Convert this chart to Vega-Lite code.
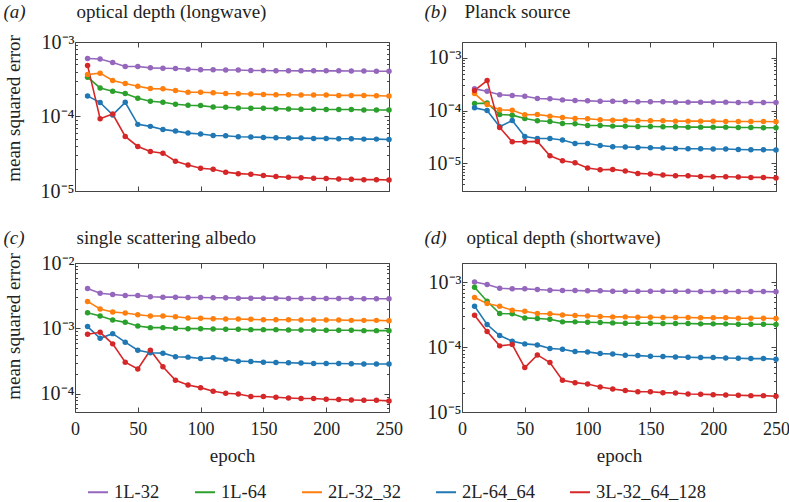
{
  "$schema": "https://vega.github.io/schema/vega-lite/v6.json",
  "padding": {"left": 2, "top": 1, "right": 0, "bottom": 0},
  "background": "white",
  "datasets": {
    "a": [
      {"e":10,"1L-32":6.0e-4,"1L-64":3.37e-4,"2L-32_32":3.66e-4,"2L-64_64":1.89e-4,"3L-32_64_128":4.85e-4},
      {"e":20,"1L-32":5.9e-4,"1L-64":2.42e-4,"2L-32_32":3.82e-4,"2L-64_64":1.54e-4,"3L-32_64_128":9.35e-5},
      {"e":30,"1L-32":5.3e-4,"1L-64":2.18e-4,"2L-32_32":3.04e-4,"2L-64_64":1.05e-4,"3L-32_64_128":1.08e-4},
      {"e":40,"1L-32":4.7e-4,"1L-64":2.03e-4,"2L-32_32":2.77e-4,"2L-64_64":1.55e-4,"3L-32_64_128":5.4e-5},
      {"e":50,"1L-32":4.7e-4,"1L-64":1.76e-4,"2L-32_32":2.55e-4,"2L-64_64":7.84e-5,"3L-32_64_128":3.96e-5},
      {"e":60,"1L-32":4.5e-4,"1L-64":1.60e-4,"2L-32_32":2.37e-4,"2L-64_64":7.37e-5,"3L-32_64_128":3.39e-5},
      {"e":70,"1L-32":4.45e-4,"1L-64":1.55e-4,"2L-32_32":2.35e-4,"2L-64_64":6.71e-5,"3L-32_64_128":3.22e-5},
      {"e":80,"1L-32":4.4e-4,"1L-64":1.46e-4,"2L-32_32":2.23e-4,"2L-64_64":6.37e-5,"3L-32_64_128":2.51e-5},
      {"e":90,"1L-32":4.3e-4,"1L-64":1.415e-4,"2L-32_32":2.12e-4,"2L-64_64":5.99e-5,"3L-32_64_128":2.24e-5},
      {"e":100,"1L-32":4.25e-4,"1L-64":1.40e-4,"2L-32_32":2.12e-4,"2L-64_64":5.81e-5,"3L-32_64_128":2.02e-5},
      {"e":110,"1L-32":4.25e-4,"1L-64":1.34e-4,"2L-32_32":2.08e-4,"2L-64_64":5.57e-5,"3L-32_64_128":1.96e-5},
      {"e":120,"1L-32":4.2e-4,"1L-64":1.33e-4,"2L-32_32":2.04e-4,"2L-64_64":5.52e-5,"3L-32_64_128":1.79e-5},
      {"e":130,"1L-32":4.2e-4,"1L-64":1.30e-4,"2L-32_32":2.02e-4,"2L-64_64":5.35e-5,"3L-32_64_128":1.71e-5},
      {"e":140,"1L-32":4.15e-4,"1L-64":1.29e-4,"2L-32_32":2.0e-4,"2L-64_64":5.3e-5,"3L-32_64_128":1.68e-5},
      {"e":150,"1L-32":4.15e-4,"1L-64":1.29e-4,"2L-32_32":1.98e-4,"2L-64_64":5.24e-5,"3L-32_64_128":1.61e-5},
      {"e":160,"1L-32":4.12e-4,"1L-64":1.275e-4,"2L-32_32":1.96e-4,"2L-64_64":5.19e-5,"3L-32_64_128":1.56e-5},
      {"e":170,"1L-32":4.12e-4,"1L-64":1.26e-4,"2L-32_32":1.96e-4,"2L-64_64":5.13e-5,"3L-32_64_128":1.53e-5},
      {"e":180,"1L-32":4.1e-4,"1L-64":1.25e-4,"2L-32_32":1.94e-4,"2L-64_64":5.13e-5,"3L-32_64_128":1.51e-5},
      {"e":190,"1L-32":4.1e-4,"1L-64":1.25e-4,"2L-32_32":1.94e-4,"2L-64_64":5.08e-5,"3L-32_64_128":1.48e-5},
      {"e":200,"1L-32":4.1e-4,"1L-64":1.24e-4,"2L-32_32":1.94e-4,"2L-64_64":5.08e-5,"3L-32_64_128":1.47e-5},
      {"e":210,"1L-32":4.1e-4,"1L-64":1.24e-4,"2L-32_32":1.92e-4,"2L-64_64":5.02e-5,"3L-32_64_128":1.45e-5},
      {"e":220,"1L-32":4.08e-4,"1L-64":1.24e-4,"2L-32_32":1.92e-4,"2L-64_64":5.02e-5,"3L-32_64_128":1.44e-5},
      {"e":230,"1L-32":4.08e-4,"1L-64":1.225e-4,"2L-32_32":1.92e-4,"2L-64_64":4.97e-5,"3L-32_64_128":1.42e-5},
      {"e":240,"1L-32":4.05e-4,"1L-64":1.225e-4,"2L-32_32":1.9e-4,"2L-64_64":4.97e-5,"3L-32_64_128":1.42e-5},
      {"e":250,"1L-32":4.05e-4,"1L-64":1.225e-4,"2L-32_32":1.88e-4,"2L-64_64":4.92e-5,"3L-32_64_128":1.406e-5}
    ],
    "b": [
      {"e":10,"1L-32":2.59e-4,"1L-64":1.37e-4,"2L-32_32":2.11e-4,"2L-64_64":1.13e-4,"3L-32_64_128":2.41e-4},
      {"e":20,"1L-32":2.34e-4,"1L-64":1.39e-4,"2L-32_32":1.31e-4,"2L-64_64":1.01e-4,"3L-32_64_128":3.72e-4},
      {"e":30,"1L-32":2.0e-4,"1L-64":8.46e-5,"2L-32_32":1.04e-4,"2L-64_64":4.94e-5,"3L-32_64_128":4.8e-5},
      {"e":40,"1L-32":1.94e-4,"1L-64":8.22e-5,"2L-32_32":1.02e-4,"2L-64_64":6.51e-5,"3L-32_64_128":2.57e-5},
      {"e":50,"1L-32":1.88e-4,"1L-64":7.11e-5,"2L-32_32":8.34e-5,"2L-64_64":3.24e-5,"3L-32_64_128":2.57e-5},
      {"e":60,"1L-32":1.70e-4,"1L-64":6.42e-5,"2L-32_32":8.46e-5,"2L-64_64":2.97e-5,"3L-32_64_128":2.61e-5},
      {"e":70,"1L-32":1.675e-4,"1L-64":6.24e-5,"2L-32_32":7.87e-5,"2L-64_64":2.97e-5,"3L-32_64_128":1.396e-5},
      {"e":80,"1L-32":1.60e-4,"1L-64":5.72e-5,"2L-32_32":7.42e-5,"2L-64_64":2.77e-5,"3L-32_64_128":1.122e-5},
      {"e":90,"1L-32":1.56e-4,"1L-64":5.64e-5,"2L-32_32":7.11e-5,"2L-64_64":2.39e-5,"3L-32_64_128":1.03e-5},
      {"e":100,"1L-32":1.535e-4,"1L-64":5.24e-5,"2L-32_32":7.0e-5,"2L-64_64":2.39e-5,"3L-32_64_128":8.17e-6},
      {"e":110,"1L-32":1.51e-4,"1L-64":5.24e-5,"2L-32_32":6.7e-5,"2L-64_64":2.19e-5,"3L-32_64_128":7.59e-6},
      {"e":120,"1L-32":1.51e-4,"1L-64":5.09e-5,"2L-32_32":6.6e-5,"2L-64_64":2.07e-5,"3L-32_64_128":7.7e-6},
      {"e":130,"1L-32":1.49e-4,"1L-64":5.09e-5,"2L-32_32":6.6e-5,"2L-64_64":2.04e-5,"3L-32_64_128":7.16e-6},
      {"e":140,"1L-32":1.47e-4,"1L-64":5.01e-5,"2L-32_32":6.51e-5,"2L-64_64":2.01e-5,"3L-32_64_128":6.47e-6},
      {"e":150,"1L-32":1.47e-4,"1L-64":5.01e-5,"2L-32_32":6.42e-5,"2L-64_64":1.98e-5,"3L-32_64_128":6.28e-6},
      {"e":160,"1L-32":1.47e-4,"1L-64":4.94e-5,"2L-32_32":6.42e-5,"2L-64_64":1.95e-5,"3L-32_64_128":6.01e-6},
      {"e":170,"1L-32":1.45e-4,"1L-64":4.94e-5,"2L-32_32":6.33e-5,"2L-64_64":1.92e-5,"3L-32_64_128":5.84e-6},
      {"e":180,"1L-32":1.45e-4,"1L-64":4.87e-5,"2L-32_32":6.33e-5,"2L-64_64":1.9e-5,"3L-32_64_128":5.84e-6},
      {"e":190,"1L-32":1.45e-4,"1L-64":4.87e-5,"2L-32_32":6.33e-5,"2L-64_64":1.9e-5,"3L-32_64_128":5.67e-6},
      {"e":200,"1L-32":1.45e-4,"1L-64":4.87e-5,"2L-32_32":6.33e-5,"2L-64_64":1.87e-5,"3L-32_64_128":5.6e-6},
      {"e":210,"1L-32":1.45e-4,"1L-64":4.87e-5,"2L-32_32":6.24e-5,"2L-64_64":1.87e-5,"3L-32_64_128":5.6e-6},
      {"e":220,"1L-32":1.43e-4,"1L-64":4.8e-5,"2L-32_32":6.24e-5,"2L-64_64":1.84e-5,"3L-32_64_128":5.51e-6},
      {"e":230,"1L-32":1.43e-4,"1L-64":4.8e-5,"2L-32_32":6.24e-5,"2L-64_64":1.82e-5,"3L-32_64_128":5.43e-6},
      {"e":240,"1L-32":1.43e-4,"1L-64":4.73e-5,"2L-32_32":6.24e-5,"2L-64_64":1.82e-5,"3L-32_64_128":5.43e-6},
      {"e":250,"1L-32":1.43e-4,"1L-64":4.73e-5,"2L-32_32":6.15e-5,"2L-64_64":1.79e-5,"3L-32_64_128":5.28e-6}
    ],
    "c": [
      {"e":10,"1L-32":4.07e-3,"1L-64":1.74e-3,"2L-32_32":2.59e-3,"2L-64_64":1.07e-3,"3L-32_64_128":8.15e-4},
      {"e":20,"1L-32":3.46e-3,"1L-64":1.55e-3,"2L-32_32":1.98e-3,"2L-64_64":7.09e-4,"3L-32_64_128":8.74e-4},
      {"e":30,"1L-32":3.30e-3,"1L-64":1.346e-3,"2L-32_32":1.78e-3,"2L-64_64":8.34e-4,"3L-32_64_128":5.82e-4},
      {"e":40,"1L-32":3.19e-3,"1L-64":1.24e-3,"2L-32_32":1.72e-3,"2L-64_64":6.17e-4,"3L-32_64_128":3.06e-4},
      {"e":50,"1L-32":3.19e-3,"1L-64":1.09e-3,"2L-32_32":1.62e-3,"2L-64_64":4.66e-4,"3L-32_64_128":2.4e-4},
      {"e":60,"1L-32":3.045e-3,"1L-64":1.03e-3,"2L-32_32":1.55e-3,"2L-64_64":4.25e-4,"3L-32_64_128":4.66e-4},
      {"e":70,"1L-32":3.01e-3,"1L-64":1.03e-3,"2L-32_32":1.55e-3,"2L-64_64":4.2e-4,"3L-32_64_128":2.6e-4},
      {"e":80,"1L-32":3.01e-3,"1L-64":1.006e-3,"2L-32_32":1.51e-3,"2L-64_64":3.69e-4,"3L-32_64_128":1.614e-4},
      {"e":90,"1L-32":2.97e-3,"1L-64":9.94e-4,"2L-32_32":1.443e-3,"2L-64_64":3.65e-4,"3L-32_64_128":1.37e-4},
      {"e":100,"1L-32":2.97e-3,"1L-64":9.94e-4,"2L-32_32":1.427e-3,"2L-64_64":3.48e-4,"3L-32_64_128":1.248e-4},
      {"e":110,"1L-32":2.94e-3,"1L-64":9.83e-4,"2L-32_32":1.41e-3,"2L-64_64":3.56e-4,"3L-32_64_128":1.1e-4},
      {"e":120,"1L-32":2.94e-3,"1L-64":9.71e-4,"2L-32_32":1.394e-3,"2L-64_64":3.4e-4,"3L-32_64_128":1.023e-4},
      {"e":130,"1L-32":2.905e-3,"1L-64":9.71e-4,"2L-32_32":1.394e-3,"2L-64_64":3.17e-4,"3L-32_64_128":1.0e-4},
      {"e":140,"1L-32":2.905e-3,"1L-64":9.6e-4,"2L-32_32":1.378e-3,"2L-64_64":3.13e-4,"3L-32_64_128":9.12e-5},
      {"e":150,"1L-32":2.905e-3,"1L-64":9.6e-4,"2L-32_32":1.36e-3,"2L-64_64":3.06e-4,"3L-32_64_128":9.12e-5},
      {"e":160,"1L-32":2.905e-3,"1L-64":9.6e-4,"2L-32_32":1.36e-3,"2L-64_64":3.03e-4,"3L-32_64_128":8.89e-5},
      {"e":170,"1L-32":2.87e-3,"1L-64":9.48e-4,"2L-32_32":1.36e-3,"2L-64_64":2.99e-4,"3L-32_64_128":8.69e-5},
      {"e":180,"1L-32":2.87e-3,"1L-64":9.48e-4,"2L-32_32":1.346e-3,"2L-64_64":2.96e-4,"3L-32_64_128":8.5e-5},
      {"e":190,"1L-32":2.87e-3,"1L-64":9.48e-4,"2L-32_32":1.346e-3,"2L-64_64":2.92e-4,"3L-32_64_128":8.5e-5},
      {"e":200,"1L-32":2.87e-3,"1L-64":9.38e-4,"2L-32_32":1.346e-3,"2L-64_64":2.92e-4,"3L-32_64_128":8.3e-5},
      {"e":210,"1L-32":2.87e-3,"1L-64":9.38e-4,"2L-32_32":1.346e-3,"2L-64_64":2.92e-4,"3L-32_64_128":8.2e-5},
      {"e":220,"1L-32":2.87e-3,"1L-64":9.38e-4,"2L-32_32":1.33e-3,"2L-64_64":2.89e-4,"3L-32_64_128":8.1e-5},
      {"e":230,"1L-32":2.84e-3,"1L-64":9.27e-4,"2L-32_32":1.33e-3,"2L-64_64":2.86e-4,"3L-32_64_128":8.0e-5},
      {"e":240,"1L-32":2.84e-3,"1L-64":9.27e-4,"2L-32_32":1.33e-3,"2L-64_64":2.86e-4,"3L-32_64_128":8.0e-5},
      {"e":250,"1L-32":2.84e-3,"1L-64":9.27e-4,"2L-32_32":1.315e-3,"2L-64_64":2.86e-4,"3L-32_64_128":7.83e-5}
    ],
    "d": [
      {"e":10,"1L-32":1.02e-3,"1L-64":8.47e-4,"2L-32_32":5.86e-4,"2L-64_64":4.31e-4,"3L-32_64_128":3.13e-4},
      {"e":20,"1L-32":9.31e-4,"1L-64":5.14e-4,"2L-32_32":4.73e-4,"2L-64_64":2.242e-4,"3L-32_64_128":1.747e-4},
      {"e":30,"1L-32":8.17e-4,"1L-64":3.32e-4,"2L-32_32":4.306e-4,"2L-64_64":1.515e-4,"3L-32_64_128":1.05e-4},
      {"e":40,"1L-32":7.98e-4,"1L-64":3.28e-4,"2L-32_32":3.735e-4,"2L-64_64":1.239e-4,"3L-32_64_128":1.10e-4},
      {"e":50,"1L-32":7.98e-4,"1L-64":2.84e-4,"2L-32_32":3.603e-4,"2L-64_64":1.127e-4,"3L-32_64_128":4.85e-5},
      {"e":60,"1L-32":7.8e-4,"1L-64":2.775e-4,"2L-32_32":3.32e-4,"2L-64_64":1.087e-4,"3L-32_64_128":7.61e-5},
      {"e":70,"1L-32":7.61e-4,"1L-64":2.71e-4,"2L-32_32":3.28e-4,"2L-64_64":9.54e-5,"3L-32_64_128":5.8e-5},
      {"e":80,"1L-32":7.52e-4,"1L-64":2.465e-4,"2L-32_32":3.16e-4,"2L-64_64":9.31e-5,"3L-32_64_128":3.09e-5},
      {"e":90,"1L-32":7.52e-4,"1L-64":2.465e-4,"2L-32_32":3.09e-4,"2L-64_64":8.57e-5,"3L-32_64_128":2.84e-5},
      {"e":100,"1L-32":7.43e-4,"1L-64":2.435e-4,"2L-32_32":3.05e-4,"2L-64_64":8.47e-5,"3L-32_64_128":2.71e-5},
      {"e":110,"1L-32":7.43e-4,"1L-64":2.406e-4,"2L-32_32":2.98e-4,"2L-64_64":7.98e-5,"3L-32_64_128":2.44e-5},
      {"e":120,"1L-32":7.34e-4,"1L-64":2.378e-4,"2L-32_32":2.944e-4,"2L-64_64":7.88e-5,"3L-32_64_128":2.27e-5},
      {"e":130,"1L-32":7.34e-4,"1L-64":2.35e-4,"2L-32_32":2.944e-4,"2L-64_64":7.52e-5,"3L-32_64_128":2.14e-5},
      {"e":140,"1L-32":7.34e-4,"1L-64":2.35e-4,"2L-32_32":2.91e-4,"2L-64_64":7.43e-5,"3L-32_64_128":2.06e-5},
      {"e":150,"1L-32":7.34e-4,"1L-64":2.35e-4,"2L-32_32":2.91e-4,"2L-64_64":7.26e-5,"3L-32_64_128":2.06e-5},
      {"e":160,"1L-32":7.34e-4,"1L-64":2.323e-4,"2L-32_32":2.875e-4,"2L-64_64":7.18e-5,"3L-32_64_128":1.99e-5},
      {"e":170,"1L-32":7.34e-4,"1L-64":2.323e-4,"2L-32_32":2.875e-4,"2L-64_64":7.09e-5,"3L-32_64_128":1.97e-5},
      {"e":180,"1L-32":7.34e-4,"1L-64":2.323e-4,"2L-32_32":2.875e-4,"2L-64_64":7.0e-5,"3L-32_64_128":1.9e-5},
      {"e":190,"1L-32":7.26e-4,"1L-64":2.296e-4,"2L-32_32":2.844e-4,"2L-64_64":6.92e-5,"3L-32_64_128":1.876e-5},
      {"e":200,"1L-32":7.26e-4,"1L-64":2.296e-4,"2L-32_32":2.844e-4,"2L-64_64":6.92e-5,"3L-32_64_128":1.854e-5},
      {"e":210,"1L-32":7.26e-4,"1L-64":2.296e-4,"2L-32_32":2.844e-4,"2L-64_64":6.84e-5,"3L-32_64_128":1.832e-5},
      {"e":220,"1L-32":7.26e-4,"1L-64":2.269e-4,"2L-32_32":2.81e-4,"2L-64_64":6.76e-5,"3L-32_64_128":1.81e-5},
      {"e":230,"1L-32":7.26e-4,"1L-64":2.269e-4,"2L-32_32":2.81e-4,"2L-64_64":6.68e-5,"3L-32_64_128":1.79e-5},
      {"e":240,"1L-32":7.26e-4,"1L-64":2.269e-4,"2L-32_32":2.81e-4,"2L-64_64":6.68e-5,"3L-32_64_128":1.79e-5},
      {"e":250,"1L-32":7.17e-4,"1L-64":2.242e-4,"2L-32_32":2.775e-4,"2L-64_64":6.52e-5,"3L-32_64_128":1.747e-5}
    ]
  },
  "columns": 2,
  "bounds": "flush",
  "spacing": {"row": 72, "column": 73},
  "concat": [
    {
      "width": 314, "height": 149,
      "data": {"name": "a"},
      "transform": [{"fold": ["1L-32","1L-64","2L-32_32","2L-64_64","3L-32_64_128"], "as": ["model","mse"]}],
      "encoding": {
        "color": {"field": "model", "type": "nominal",
          "scale": {"domain": ["1L-32","1L-64","2L-32_32","2L-64_64","3L-32_64_128"], "range": ["#9467bd","#2ca02c","#ff7f0e","#1f77b4","#d62728"]},
          "legend": {"orient": "none", "legendX": 12, "legendY": 439, "direction": "horizontal", "title": null, "symbolType": "stroke", "symbolSize": 400, "symbolStrokeWidth": 2, "labelFontSize": 18.5, "labelOffset": 5, "columnPadding": 31, "padding": 0,
            "labelExpr": "datum.label == '2L-32_32' ? '2L-32_32\u00a0\u00a0\u00a0\u00a0' : datum.label"}}
      },
      "layer": [
        {"mark": {"type": "line", "strokeWidth": 1.6},
         "encoding": {
          "x": {"field": "e", "type": "quantitative", "scale": {"domain": [0,250], "nice": false, "zero": false},
                "axis": {"orient": "bottom", "values": [0,50,100,150,200,250], "labels": false, "title": null, "tickSize": -5}},
          "y": {"field": "mse", "type": "quantitative", "scale": {"type": "log", "domain": [1e-5,1e-3], "nice": false},
                "axis": {"orient": "left", "values": [1e-5,2e-5,3e-5,4e-5,5e-5,6e-5,7e-5,8e-5,9e-5,1e-4,2e-4,3e-4,4e-4,5e-4,6e-4,7e-4,8e-4,9e-4,1e-3],
                  "labelExpr": "abs(log(datum.value)/LN10-round(log(datum.value)/LN10))<0.01 ? '10⁻' + ['⁰','¹','²','³','⁴','⁵','⁶'][-round(log(datum.value)/LN10)] : ''",
                  "tickSize": {"condition": {"test": "abs(log(datum.value)/LN10-round(log(datum.value)/LN10))<0.01", "value": -5}, "value": -2.5},
                  "labelPadding": 6, "labelFontSize": 20, "title": "mean squared error", "titleX": -62, "titleY": 66, "titleBaseline": "middle"}}
         }},
        {"mark": {"type": "point", "filled": true, "size": 30, "opacity": 1},
         "encoding": {
          "x": {"field": "e", "type": "quantitative", "scale": {"domain": [0,250], "nice": false, "zero": false},
                "axis": {"orient": "top", "values": [0,50,100,150,200,250], "labels": false, "tickSize": -5,
                  "title": "optical depth (longwave)", "titleX": 1, "titleY": -25, "titleAlign": "left", "titleBaseline": "alphabetic", "titleAngle": 0}},
          "y": {"field": "mse", "type": "quantitative", "scale": {"type": "log", "domain": [1e-5,1e-3], "nice": false},
                "axis": {"orient": "right", "values": [1e-5,2e-5,3e-5,4e-5,5e-5,6e-5,7e-5,8e-5,9e-5,1e-4,2e-4,3e-4,4e-4,5e-4,6e-4,7e-4,8e-4,9e-4,1e-3],
                  "labels": false,
                  "tickSize": {"condition": {"test": "abs(log(datum.value)/LN10-round(log(datum.value)/LN10))<0.01", "value": -5}, "value": -2.5},
                  "title": "(a)", "titleX": -386, "titleY": -25, "titleAngle": 0, "titleAlign": "left", "titleBaseline": "alphabetic", "titleFontStyle": "italic"}}
         }}
      ],
      "resolve": {"axis": {"x": "independent", "y": "independent"}}
    },
    {
      "width": 314, "height": 149,
      "data": {"name": "b"},
      "transform": [{"fold": ["1L-32","1L-64","2L-32_32","2L-64_64","3L-32_64_128"], "as": ["model","mse"]}],
      "encoding": {
        "color": {"field": "model", "type": "nominal",
          "scale": {"domain": ["1L-32","1L-64","2L-32_32","2L-64_64","3L-32_64_128"], "range": ["#9467bd","#2ca02c","#ff7f0e","#1f77b4","#d62728"]}}
      },
      "layer": [
        {"mark": {"type": "line", "strokeWidth": 1.6},
         "encoding": {
          "x": {"field": "e", "type": "quantitative", "scale": {"domain": [0,250], "nice": false, "zero": false},
                "axis": {"orient": "bottom", "values": [0,50,100,150,200,250], "labels": false, "title": null, "tickSize": -5}},
          "y": {"field": "mse", "type": "quantitative", "scale": {"type": "log", "domain": [3e-6,2e-3], "nice": false},
                "axis": {"orient": "left", "values": [3e-6,4e-6,5e-6,6e-6,7e-6,8e-6,9e-6,1e-5,2e-5,3e-5,4e-5,5e-5,6e-5,7e-5,8e-5,9e-5,1e-4,2e-4,3e-4,4e-4,5e-4,6e-4,7e-4,8e-4,9e-4,1e-3,2e-3],
                  "labelExpr": "abs(log(datum.value)/LN10-round(log(datum.value)/LN10))<0.01 ? '10⁻' + ['⁰','¹','²','³','⁴','⁵','⁶'][-round(log(datum.value)/LN10)] : ''",
                  "tickSize": {"condition": {"test": "abs(log(datum.value)/LN10-round(log(datum.value)/LN10))<0.01", "value": -5}, "value": -2.5},
                  "labelPadding": 6, "labelFontSize": 20, "title": null}}
         }},
        {"mark": {"type": "point", "filled": true, "size": 30, "opacity": 1},
         "encoding": {
          "x": {"field": "e", "type": "quantitative", "scale": {"domain": [0,250], "nice": false, "zero": false},
                "axis": {"orient": "top", "values": [0,50,100,150,200,250], "labels": false, "tickSize": -5,
                  "title": "Planck source", "titleX": 2, "titleY": -25, "titleAlign": "left", "titleBaseline": "alphabetic", "titleAngle": 0}},
          "y": {"field": "mse", "type": "quantitative", "scale": {"type": "log", "domain": [3e-6,2e-3], "nice": false},
                "axis": {"orient": "right", "values": [3e-6,4e-6,5e-6,6e-6,7e-6,8e-6,9e-6,1e-5,2e-5,3e-5,4e-5,5e-5,6e-5,7e-5,8e-5,9e-5,1e-4,2e-4,3e-4,4e-4,5e-4,6e-4,7e-4,8e-4,9e-4,1e-3,2e-3],
                  "labels": false,
                  "tickSize": {"condition": {"test": "abs(log(datum.value)/LN10-round(log(datum.value)/LN10))<0.01", "value": -5}, "value": -2.5},
                  "title": "(b)", "titleX": -352, "titleY": -25, "titleAngle": 0, "titleAlign": "left", "titleBaseline": "alphabetic", "titleFontStyle": "italic"}}
         }}
      ],
      "resolve": {"axis": {"x": "independent", "y": "independent"}}
    },
    {
      "width": 314, "height": 149,
      "data": {"name": "c"},
      "transform": [{"fold": ["1L-32","1L-64","2L-32_32","2L-64_64","3L-32_64_128"], "as": ["model","mse"]}],
      "encoding": {
        "color": {"field": "model", "type": "nominal",
          "scale": {"domain": ["1L-32","1L-64","2L-32_32","2L-64_64","3L-32_64_128"], "range": ["#9467bd","#2ca02c","#ff7f0e","#1f77b4","#d62728"]}}
      },
      "layer": [
        {"mark": {"type": "line", "strokeWidth": 1.6},
         "encoding": {
          "x": {"field": "e", "type": "quantitative", "scale": {"domain": [0,250], "nice": false, "zero": false},
                "axis": {"orient": "bottom", "values": [0,50,100,150,200,250], "labelPadding": 13, "labelFontSize": 18, "title": "epoch", "titleY": 49, "titleBaseline": "alphabetic", "tickSize": -5}},
          "y": {"field": "mse", "type": "quantitative", "scale": {"type": "log", "domain": [5.3e-5,1e-2], "nice": false},
                "axis": {"orient": "left", "values": [6e-5,7e-5,8e-5,9e-5,1e-4,2e-4,3e-4,4e-4,5e-4,6e-4,7e-4,8e-4,9e-4,1e-3,2e-3,3e-3,4e-3,5e-3,6e-3,7e-3,8e-3,9e-3,1e-2],
                  "labelExpr": "abs(log(datum.value)/LN10-round(log(datum.value)/LN10))<0.01 ? '10⁻' + ['⁰','¹','²','³','⁴','⁵','⁶'][-round(log(datum.value)/LN10)] : ''",
                  "tickSize": {"condition": {"test": "abs(log(datum.value)/LN10-round(log(datum.value)/LN10))<0.01", "value": -5}, "value": -2.5},
                  "labelPadding": 6, "labelFontSize": 20, "title": "mean squared error", "titleX": -62, "titleY": 63, "titleBaseline": "middle"}}
         }},
        {"mark": {"type": "point", "filled": true, "size": 30, "opacity": 1},
         "encoding": {
          "x": {"field": "e", "type": "quantitative", "scale": {"domain": [0,250], "nice": false, "zero": false},
                "axis": {"orient": "top", "values": [0,50,100,150,200,250], "labels": false, "tickSize": -5,
                  "title": "single scattering albedo", "titleX": 1, "titleY": -20, "titleAlign": "left", "titleBaseline": "alphabetic", "titleAngle": 0}},
          "y": {"field": "mse", "type": "quantitative", "scale": {"type": "log", "domain": [5.3e-5,1e-2], "nice": false},
                "axis": {"orient": "right", "values": [6e-5,7e-5,8e-5,9e-5,1e-4,2e-4,3e-4,4e-4,5e-4,6e-4,7e-4,8e-4,9e-4,1e-3,2e-3,3e-3,4e-3,5e-3,6e-3,7e-3,8e-3,9e-3,1e-2],
                  "labels": false,
                  "tickSize": {"condition": {"test": "abs(log(datum.value)/LN10-round(log(datum.value)/LN10))<0.01", "value": -5}, "value": -2.5},
                  "title": "(c)", "titleX": -386, "titleY": -20, "titleAngle": 0, "titleAlign": "left", "titleBaseline": "alphabetic", "titleFontStyle": "italic"}}
         }}
      ],
      "resolve": {"axis": {"x": "independent", "y": "independent"}}
    },
    {
      "width": 314, "height": 149,
      "data": {"name": "d"},
      "transform": [{"fold": ["1L-32","1L-64","2L-32_32","2L-64_64","3L-32_64_128"], "as": ["model","mse"]}],
      "encoding": {
        "color": {"field": "model", "type": "nominal",
          "scale": {"domain": ["1L-32","1L-64","2L-32_32","2L-64_64","3L-32_64_128"], "range": ["#9467bd","#2ca02c","#ff7f0e","#1f77b4","#d62728"]}}
      },
      "layer": [
        {"mark": {"type": "line", "strokeWidth": 1.6},
         "encoding": {
          "x": {"field": "e", "type": "quantitative", "scale": {"domain": [0,250], "nice": false, "zero": false},
                "axis": {"orient": "bottom", "values": [0,50,100,150,200,250], "labelPadding": 13, "labelFontSize": 18, "title": "epoch", "titleY": 49, "titleBaseline": "alphabetic", "tickSize": -5}},
          "y": {"field": "mse", "type": "quantitative", "scale": {"type": "log", "domain": [1e-5,2e-3], "nice": false},
                "axis": {"orient": "left", "values": [1e-5,2e-5,3e-5,4e-5,5e-5,6e-5,7e-5,8e-5,9e-5,1e-4,2e-4,3e-4,4e-4,5e-4,6e-4,7e-4,8e-4,9e-4,1e-3,2e-3],
                  "labelExpr": "abs(log(datum.value)/LN10-round(log(datum.value)/LN10))<0.01 ? '10⁻' + ['⁰','¹','²','³','⁴','⁵','⁶'][-round(log(datum.value)/LN10)] : ''",
                  "tickSize": {"condition": {"test": "abs(log(datum.value)/LN10-round(log(datum.value)/LN10))<0.01", "value": -5}, "value": -2.5},
                  "labelPadding": 6, "labelFontSize": 20, "title": null}}
         }},
        {"mark": {"type": "point", "filled": true, "size": 30, "opacity": 1},
         "encoding": {
          "x": {"field": "e", "type": "quantitative", "scale": {"domain": [0,250], "nice": false, "zero": false},
                "axis": {"orient": "top", "values": [0,50,100,150,200,250], "labels": false, "tickSize": -5,
                  "title": "optical depth (shortwave)", "titleX": 4, "titleY": -20, "titleAlign": "left", "titleBaseline": "alphabetic", "titleAngle": 0}},
          "y": {"field": "mse", "type": "quantitative", "scale": {"type": "log", "domain": [1e-5,2e-3], "nice": false},
                "axis": {"orient": "right", "values": [1e-5,2e-5,3e-5,4e-5,5e-5,6e-5,7e-5,8e-5,9e-5,1e-4,2e-4,3e-4,4e-4,5e-4,6e-4,7e-4,8e-4,9e-4,1e-3,2e-3],
                  "labels": false,
                  "tickSize": {"condition": {"test": "abs(log(datum.value)/LN10-round(log(datum.value)/LN10))<0.01", "value": -5}, "value": -2.5},
                  "title": "(d)", "titleX": -352, "titleY": -20, "titleAngle": 0, "titleAlign": "left", "titleBaseline": "alphabetic", "titleFontStyle": "italic"}}
         }}
      ],
      "resolve": {"axis": {"x": "independent", "y": "independent"}}
    }
  ],
  "config": {
    "font": "Liberation Serif, Times New Roman, Times, serif",
    "view": {"stroke": "#444", "strokeWidth": 1},
    "axis": {"grid": false, "domain": false, "labelFont": "Liberation Serif, Times New Roman, Times, serif", "labelFontSize": 19, "labelColor": "#222", "labelOverlap": false, "labelFlush": false,
             "titleFont": "Liberation Serif, Times New Roman, Times, serif", "titleFontSize": 19, "titleFontWeight": "normal", "titleColor": "#222", "tickColor": "#444", "tickWidth": 1},
    "legend": {"labelFont": "Liberation Serif, Times New Roman, Times, serif", "labelFontSize": 18.5, "labelColor": "#222"}
  }
}
